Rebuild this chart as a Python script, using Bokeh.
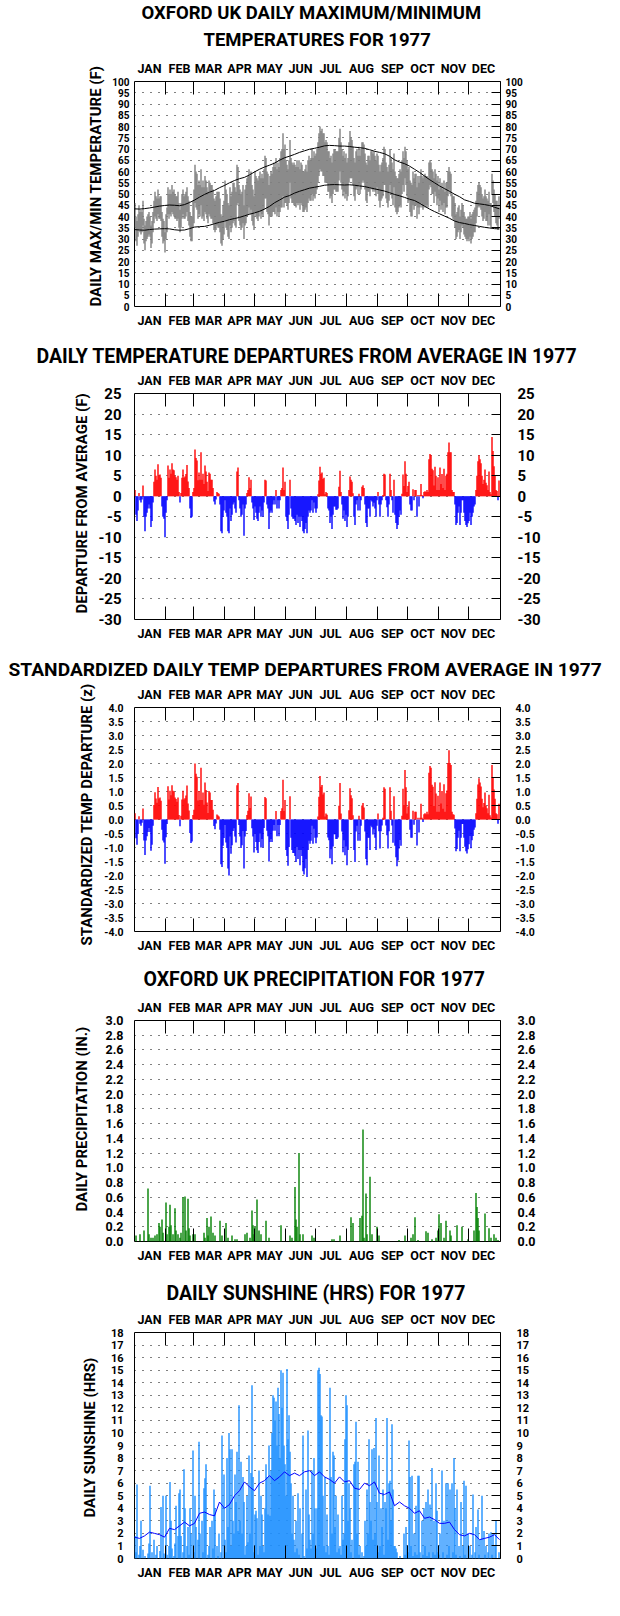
from bokeh.plotting import figure
from bokeh.models import Range1d, FixedTicker, LinearAxis, Title, ColumnDataSource, NumeralTickFormatter
from bokeh.layouts import column
from bokeh.embed import file_html
from bokeh.resources import INLINE

# ---------------- DATA ----------------
month_names = ["JAN", "FEB", "MAR", "APR", "MAY", "JUN", "JUL", "AUG", "SEP", "OCT", "NOV", "DEC"]
month_bounds = [0, 31, 59, 90, 120, 151, 181, 212, 243, 273, 304, 334, 365]
month_mids = [15, 45, 74, 105, 135, 166, 196, 227, 258, 288, 319, 349]

# daily max / min temperature (F)
tmax = [
 46, 40, 38, 41, 45, 42, 43, 42, 47, 39, 36, 38, 40, 41, 42, 40, 36, 38, 42, 47, 51, 49, 48, 52, 48, 49, 49, 42, 39, 38, 33,
 41, 44, 53, 50, 52, 50, 54, 51, 52, 50, 49, 49, 51, 46, 43, 46, 50, 52, 49, 50, 51, 53, 49, 47, 42, 40, 40, 47,
 52, 63, 60, 59, 54, 56, 54, 61, 53, 56, 53, 58, 56, 53, 51, 56, 55, 54, 54, 52, 48, 47, 49, 51, 51, 51, 48, 41, 40, 45, 47,
 56, 52, 50, 46, 45, 53, 49, 51, 55, 55, 53, 51, 63, 62, 54, 52, 50, 51, 54, 45, 52, 54, 57, 58, 61, 58, 60, 54, 52, 49,
 60, 58, 57, 56, 58, 60, 57, 59, 57, 61, 67, 66, 60, 59, 54, 58, 60, 59, 62, 64, 62, 66, 61, 64, 62, 66, 69, 70, 77, 70, 72,
 65, 63, 61, 65, 74, 66, 64, 63, 64, 63, 62, 65, 62, 65, 61, 64, 63, 60, 60, 61, 63, 60, 65, 67, 65, 66, 70, 66, 69, 67,
 68, 70, 73, 77, 80, 78, 79, 77, 77, 73, 74, 73, 69, 69, 66, 67, 64, 68, 70, 70, 69, 69, 69, 75, 79, 73, 70, 67, 69, 66, 68,
 64, 66, 73, 78, 75, 74, 71, 66, 64, 69, 70, 67, 71, 67, 70, 73, 73, 72, 68, 64, 63, 67, 67, 65, 69, 69, 68, 69, 67, 65, 68,
 67, 63, 60, 63, 64, 66, 71, 70, 64, 62, 60, 63, 70, 66, 64, 61, 68, 60, 58, 57, 57, 59, 61, 60, 65, 69, 66, 71, 69, 65,
 61, 62, 56, 55, 54, 60, 57, 59, 59, 53, 58, 55, 58, 61, 58, 57, 58, 59, 58, 58, 57, 64, 65, 64, 61, 60, 57, 61, 59, 56, 58,
 52, 57, 53, 55, 52, 56, 51, 55, 55, 60, 62, 60, 59, 50, 49, 49, 46, 41, 42, 44, 45, 40, 43, 46, 45, 42, 40, 39, 39, 40,
 40, 42, 39, 41, 42, 43, 44, 47, 51, 54, 55, 54, 53, 50, 48, 49, 52, 49, 48, 47, 51, 46, 46, 59, 56, 52, 50, 47, 47, 44, 49,
]
tmin = [
 35, 29, 27, 31, 34, 33, 32, 33, 36, 28, 25, 29, 30, 31, 32, 31, 26, 28, 33, 37, 40, 39, 38, 41, 39, 39, 38, 31, 28, 29, 24,
 30, 33, 41, 39, 41, 40, 42, 41, 40, 39, 39, 38, 39, 35, 33, 35, 39, 41, 39, 39, 40, 42, 38, 36, 31, 29, 29, 35,
 37, 46, 44, 43, 39, 41, 40, 45, 39, 40, 38, 42, 41, 39, 37, 41, 40, 39, 39, 37, 34, 33, 34, 36, 35, 35, 33, 28, 27, 30, 32,
 38, 35, 34, 31, 30, 36, 33, 35, 37, 38, 36, 35, 45, 46, 38, 36, 34, 35, 37, 30, 36, 37, 40, 41, 44, 41, 43, 38, 36, 34,
 42, 40, 39, 38, 40, 42, 39, 41, 40, 43, 48, 48, 42, 41, 36, 40, 40, 40, 42, 42, 41, 44, 40, 42, 40, 42, 44, 44, 49, 44, 46,
 46, 45, 43, 46, 55, 48, 46, 46, 45, 45, 44, 46, 45, 46, 43, 46, 45, 42, 42, 43, 44, 42, 46, 48, 47, 47, 50, 47, 49, 48,
 50, 52, 55, 58, 61, 60, 60, 58, 58, 55, 55, 55, 51, 51, 48, 49, 46, 50, 52, 52, 51, 51, 51, 56, 60, 55, 52, 49, 51, 48, 50,
 47, 49, 55, 57, 57, 57, 54, 49, 47, 52, 53, 50, 54, 50, 52, 55, 56, 55, 52, 47, 46, 51, 51, 49, 53, 52, 51, 52, 51, 49, 53,
 50, 47, 44, 47, 48, 49, 54, 54, 48, 46, 44, 47, 54, 50, 48, 45, 53, 44, 42, 41, 42, 44, 45, 44, 50, 54, 51, 57, 54, 49,
 46, 47, 42, 40, 40, 45, 43, 45, 45, 39, 44, 41, 44, 46, 44, 43, 44, 45, 44, 45, 44, 52, 54, 53, 50, 50, 46, 51, 49, 45, 48,
 42, 47, 43, 45, 42, 46, 41, 44, 44, 49, 52, 50, 49, 40, 39, 38, 35, 30, 31, 33, 34, 30, 33, 36, 35, 32, 31, 30, 29, 30,
 29, 31, 28, 30, 31, 33, 33, 37, 40, 44, 45, 44, 43, 40, 38, 39, 42, 38, 38, 36, 41, 36, 35, 50, 46, 42, 40, 37, 36, 34, 39,
]

# normal max / min, every 5th day
normal_days = list(range(0, 366, 5))
normal_max = [
 43.4, 43.3, 43.5, 43.8, 44.2, 44.6, 44.9, 45.1, 45.0, 44.8, 45.3, 46.2, 47.3, 48.6, 49.8, 50.8, 51.6, 52.8, 53.8, 55.0,
 56.0, 56.8, 57.4, 58.5, 59.8, 61.0, 62.0, 62.8, 63.7, 65.0, 66.1, 66.8, 67.6, 68.5, 69.2, 69.9, 70.3, 70.8, 71.4, 71.6,
 71.5, 71.3, 71.3, 71.1, 70.8, 70.6, 70.3, 69.7, 69.0, 68.5, 67.9, 66.8, 65.2, 64.2, 63.5, 62.4, 61.0, 59.6, 58.0, 56.4,
 55.0, 53.6, 52.4, 51.2, 49.9, 48.8, 47.4, 46.7, 45.9, 45.6, 45.3, 44.9, 44.1, 43.4,
]
normal_min = [
 34.2, 34.0, 33.9, 34.2, 34.4, 34.5, 34.6, 34.5, 34.1, 33.9, 34.0, 34.6, 35.3, 35.5, 35.6, 36.1, 36.8, 37.4, 37.9, 38.6,
 39.1, 39.6, 40.3, 41.0, 41.6, 42.3, 43.3, 44.5, 46.1, 47.3, 48.6, 49.3, 50.4, 51.2, 51.9, 52.6, 53.0, 53.4, 53.9, 54.1,
 54.2, 54.1, 54.0, 54.1, 53.9, 53.6, 53.3, 52.8, 52.3, 51.8, 51.3, 50.6, 49.8, 49.2, 48.5, 47.7, 47.1, 45.9, 44.6, 43.3,
 42.2, 41.2, 40.2, 39.2, 38.0, 37.3, 36.9, 36.4, 36.0, 35.6, 35.2, 34.9, 34.6, 34.5,
]

# daily temperature departure from average (F)
departure = [
 1.5, -4.5, -6, -3.5, 0.8, -1, -1.5, -0.8, 2.6, -5, -8.5, -5, -4, -3, -2, -3, -7.5, -6, -1.5, 3.5, 6.5, 5, 4, 7.8, 5, 5.3, 4.5, -2.5, -5, -5.5, -10,
 -4, -1, 7.5, 4.5, 6.5, 5.5, 8, 6.5, 6.3, 5, 4.6, 4, 5, 1, -1.5, 0.8, 4.5, 6.5, 4.5, 4.8, 5.4, 7.6, 3.6, 2, -3, -5.3, -5, 1,
 2, 11.4, 9.3, 8.7, 3.9, 5.8, 4, 10.7, 4, 5.5, 3, 7.5, 6, 3.5, 1.3, 5.8, 5.5, 4, 4, 2, -1.3, -2, -0.8, 1, 0.8, 0.6, -2, -8.5, -9, -5, -3.5,
 -1, -4, -5, -8.5, -9, -3, -6, -4.5, -2, -1.5, -3, -4, 6, 7, -1, -3, -5, -4.5, -2, -9.6, -3, -2, 0.8, 1.5, 4.6, 2, 4, -1.5, -3, -5.8,
 -2.5, -4, -5.5, -6, -4, -2.5, -5, -3.5, -5, -1.5, 4, 3.8, -2, -3, -8, -4, -3.5, -4, -2, -1, -2, 1.5, -3, -1, -3, -1, 1.5, 2, 7, 1.5, 3.5,
 -5, -6, -8, -4.5, 4, -3, -5, -5.5, -5.5, -6, -7, -4.5, -6.5, -5, -7.5, -5, -6, -8.5, -9, -8, -6.5, -9, -5, -3.5, -4, -3.5, -1, -4, -1.5, -3,
 -4, -3, 0.5, 3.8, 7.2, 5.5, 5.8, 4.2, 4.5, 0.5, 1, 0.8, -3, -3.5, -6.5, -5, -8, -4.5, -2.5, -2.5, -3.3, -3.3, -3, 2.3, 6.2, 1, -2, -5.5, -3.5, -6, -4.5,
 -7.5, -5, 1.5, 4.8, 4, 3.5, 0.7, -5, -7, -2, -1, -3.5, 0.6, -3.5, -1, 2.3, 2.7, 2, -2, -6.5, -7.5, -3, -3, -5, -1, -1.3, -2.5, -1.6, -3, -5, -1,
 1, -2, -5, -2, -1, 0.3, 5.5, 5.3, -1, -2.7, -5, -2, 5.5, 1.5, -1, -4, 4, -4.5, -6.5, -8, -7, -5, -3.5, -4.5, 0.6, 5.3, 2.5, 8.5, 5.5, 1,
 2.5, 3.5, -2, -3.5, -3.5, 1.7, -1, 1.5, 1.5, -5, 0.3, -2.5, 0.3, 3, 0.3, -0.5, 1, 1.2, 1, 1.5, 1, 9, 10.3, 10, 6.7, 6.3, 2.6, 7.2, 5, 1.5, 4.6,
 1.5, 7, 3, 5.4, 2, 6.7, 1.5, 5, 5.5, 10.7, 13.1, 10.7, 10.7, 1.5, 1, 1, -2, -7, -6.5, -4, -2.5, -7, -4, -1, -1, -4, -6, -7, -7.5, -6.6,
 -6, -4, -7, -5, -4, -2.5, -2, 1.5, 5, 8.5, 10, 9, 8, 5, 3, 4, 6.5, 3.3, 2.7, 1.5, 6, 1, 0.5, 14.4, 11, 7.3, 5, 1.5, 1.3, -1, 3.8,
]

# standardized daily departures (z)
z_departure = [
 0.22, -0.67, -0.9, -0.52, 0.12, -0.15, -0.22, -0.12, 0.39, -0.75, -1.27, -0.75, -0.6, -0.45, -0.3, -0.45, -1.12, -0.9, -0.22, 0.52, 0.97, 0.75, 0.6, 1.16, 0.75, 0.79, 0.67, -0.37, -0.75, -0.82, -1.58,
 -0.63, -0.16, 1.19, 0.71, 1.03, 0.87, 1.22, 1.03, 1.0, 0.79, 0.73, 0.63, 0.79, 0.16, -0.24, 0.13, 0.71, 1.03, 0.71, 0.76, 0.86, 1.21, 0.57, 0.32, -0.48, -0.84, -0.79, 0.16,
 0.35, 2.0, 1.63, 1.53, 0.68, 1.02, 0.7, 1.85, 0.7, 0.96, 0.53, 1.32, 1.05, 0.61, 0.23, 1.02, 0.96, 0.7, 0.7, 0.35, -0.23, -0.35, -0.14, 0.18, 0.14, 0.11, -0.37, -1.6, -1.7, -0.94, -0.66,
 -0.2, -0.82, -1.02, -1.75, -2.0, -0.61, -1.22, -0.92, -0.41, -0.31, -0.61, -0.82, 1.22, 1.3, -0.2, -0.61, -1.02, -0.92, -0.41, -1.75, -0.61, -0.41, 0.16, 0.31, 0.94, 0.41, 0.82, -0.31, -0.61, -1.18,
 -0.5, -0.8, -1.1, -1.2, -0.8, -0.5, -1.0, -0.7, -1.0, -0.3, 0.8, 0.76, -0.4, -0.6, -1.5, -0.8, -0.7, -0.8, -0.4, -0.2, -0.4, 0.3, -0.6, -0.2, -0.6, -0.2, 0.3, 0.4, 1.42, 0.3, 0.7,
 -1.09, -1.3, -1.65, -0.98, 0.83, -0.65, -1.09, -1.2, -1.2, -1.3, -1.52, -0.98, -1.41, -1.09, -1.63, -1.09, -1.3, -1.85, -1.96, -1.74, -1.41, -2.05, -1.09, -0.76, -0.87, -0.76, -0.22, -0.87, -0.33, -0.65,
 -0.85, -0.64, 0.11, 0.81, 1.55, 1.17, 1.23, 0.89, 0.96, 0.11, 0.21, 0.17, -0.64, -0.74, -1.38, -1.06, -1.6, -0.96, -0.53, -0.53, -0.7, -0.7, -0.64, 0.49, 1.3, 0.21, -0.43, -1.17, -0.74, -1.28, -0.96,
 -1.63, -1.09, 0.33, 1.12, 0.87, 0.76, 0.15, -1.09, -1.52, -0.43, -0.22, -0.76, 0.13, -0.76, -0.22, 0.5, 0.59, 0.43, -0.43, -1.41, -1.63, -0.65, -0.65, -1.09, -0.22, -0.28, -0.54, -0.35, -0.65, -1.09, -0.22,
 0.21, -0.42, -1.04, -0.42, -0.21, 0.06, 1.15, 1.1, -0.21, -0.56, -1.04, -0.42, 1.15, 0.31, -0.21, -0.83, 0.83, -0.94, -1.35, -1.67, -1.46, -1.04, -0.73, -0.94, 0.13, 1.1, 0.52, 1.77, 1.15, 0.21,
 0.46, 0.65, -0.37, -0.65, -0.65, 0.31, -0.19, 0.28, 0.28, -0.93, 0.06, -0.46, 0.06, 0.56, 0.06, -0.09, 0.19, 0.22, 0.19, 0.28, 0.19, 1.67, 1.91, 1.85, 1.24, 1.17, 0.48, 1.33, 0.93, 0.28, 0.85,
 0.28, 1.32, 0.57, 1.02, 0.38, 1.26, 0.28, 0.94, 1.04, 2.02, 2.47, 2.02, 1.95, 0.28, 0.19, 0.17, -0.32, -1.13, -1.05, -0.65, -0.4, -1.13, -0.65, -0.16, -0.16, -0.65, -0.97, -1.13, -1.21, -1.06,
 -0.88, -0.59, -1.03, -0.74, -0.59, -0.37, -0.29, 0.22, 0.74, 1.25, 1.47, 1.32, 1.18, 0.74, 0.44, 0.59, 0.96, 0.49, 0.4, 0.22, 0.88, 0.15, 0.07, 1.95, 1.5, 1.07, 0.74, 0.22, 0.19, -0.15, 0.56,
]

# daily precipitation (in.), days with rain
precip_days = [1, 5, 9, 13, 14, 16, 18, 20, 22, 24, 25, 27, 28, 31, 32, 34, 35, 36, 38, 40, 41, 43, 45, 46, 48, 50, 51, 53, 54, 55, 58, 60,
               69, 70, 72, 73, 74, 76, 78, 80, 85, 87, 91, 93, 97, 100, 102, 110, 112, 115, 117, 118, 119, 120, 122, 124, 126, 131, 134, 146,
               155, 157, 160, 161, 162, 164, 165, 168, 177, 179, 197, 199, 205, 216, 218, 225, 227, 228, 229, 231, 232, 235, 237, 242, 244,
               264, 270, 276, 278, 280, 283, 291, 293, 297, 301, 303, 304, 306, 309, 311, 315, 316, 322, 327, 333, 339, 341, 342, 343, 344,
               350, 354, 356, 359, 361, 363]
precip_in = [0.08, 0.1, 0.15, 0.72, 0.1, 0.05, 0.05, 0.08, 0.1, 0.25, 0.2, 0.3, 0.12, 0.53, 0.1, 0.2, 0.5, 0.22, 0.1, 0.45, 0.15, 0.1, 0.05, 0.12, 0.6, 0.61, 0.15, 0.58, 0.18, 0.08, 0.1, 0.1,
             0.12, 0.05, 0.32, 0.08, 0.2, 0.34, 0.12, 0.08, 0.28, 0.08, 0.25, 0.05, 0.08, 0.03, 0.03, 0.1, 0.12, 0.05, 0.42, 0.22, 0.1, 0.2, 0.57, 0.15, 0.1, 0.28, 0.05, 0.22,
             0.08, 0.05, 0.74, 0.3, 0.2, 1.2, 0.1, 0.1, 0.08, 0.05, 0.03, 0.03, 0.08, 0.33, 0.25, 0.32, 0.35, 1.52, 0.05, 0.65, 0.1, 0.88, 0.1, 0.2, 0.08,
             0.02, 0.08, 0.05, 0.1, 0.33, 0.02, 0.14, 0.12, 0.03, 0.05, 0.15, 0.37, 0.25, 0.05, 0.28, 0.15, 0.08, 0.22, 0.2, 0.03, 0.15, 0.66, 0.47, 0.32, 0.15,
             0.38, 0.18, 0.05, 0.1, 0.05, 0.02]

# daily sunshine (hrs)
sunshine = [
 1.8, 0.5, 5.9, 0, 0.3, 1.0, 3.0, 0, 0.7, 0, 0.2, 0, 0, 0.4, 1.2, 5.8, 0, 0.5, 0, 1.5, 0, 0.3, 1.0, 0, 0, 0.6, 4.1, 0, 5.0, 0.4, 0,
 5.0, 0.3, 0, 1.0, 6.1, 3.0, 0.8, 0, 0.2, 1.2, 4.2, 0, 1.8, 5.2, 5.5, 1.8, 0, 0.5, 7.1, 4.0, 0, 1.0, 2.5, 0.3, 4.0, 2.0, 0, 8.6,
 0.5, 5.0, 2.5, 0, 1.5, 9.3, 2.0, 0, 3.0, 0.5, 5.6, 6.4, 7.5, 0, 0.3, 1.0, 2.5, 0, 3.0, 0.8, 5.5, 4.0, 0, 1.0, 0.2, 2.0, 0, 0.5, 9.8, 0, 6.7,
 1.5, 0.5, 8.0, 2.5, 10.0, 8.7, 1.0, 8.7, 3.0, 2.0, 6.7, 4.5, 8.5, 2.2, 12.2, 3.0, 7.7, 2.0, 6.5, 4.5, 0.3, 1.0, 5.0, 1.3, 8.2, 2.0, 6.8, 13.8, 6.5, 0.5,
 3.5, 3.8, 3.2, 0.3, 7.0, 1.0, 5.0, 3.5, 1.0, 0.5, 4.0, 7.5, 6.5, 3.5, 9.0, 3.4, 7.0, 10.0, 13.0, 12.8, 11.0, 12.5, 9.0, 13.6, 11.5, 8.0, 15.0, 12.0, 14.8, 9.0, 7.5,
 5.0, 15.1, 9.5, 11.4, 8.5, 6.0, 2.0, 5.0, 1.5, 0.5, 3.0, 0.8, 5.2, 0.3, 4.0, 0, 2.0, 9.8, 0.2, 0, 5.5, 0.8, 10.2, 3.5, 1.5, 0.8, 7.0, 2.0, 8.0, 4.0,
 0.8, 4.0, 15.0, 15.2, 14.7, 11.4, 11.3, 5.0, 1.0, 6.5, 0.5, 3.5, 1.0, 0.3, 13.6, 6.5, 2.0, 8.5, 8.2, 2.5, 5.0, 0.5, 3.5, 0.8, 1.0, 0.3, 5.0, 1.5, 2.0, 9.5, 13.0,
 12.2, 3.0, 6.0, 4.0, 0.5, 1.5, 0, 7.5, 7.7, 10.9, 2.0, 7.7, 0.3, 1.0, 0, 0.5, 0, 0.2, 3.0, 1.0, 5.5, 2.0, 9.5, 4.5, 3.0, 8.7, 1.5, 8.8, 2.0, 11.2, 4.5,
 0.5, 8.2, 1.0, 4.0, 2.5, 5.5, 0.3, 4.5, 4.0, 11.2, 1.5, 6.0, 6.2, 3.0, 10.7, 5.5, 1.0, 1.0, 0.8, 0.5, 0, 0, 0.2, 0, 0, 0, 2.0, 0.3, 2.5, 1.0,
 0.5, 9.4, 6.5, 1.0, 6.6, 0.2, 2.0, 0.5, 4.2, 0.3, 6.6, 6.6, 0.5, 0, 3.0, 0.3, 4.0, 1.0, 4.5, 0.2, 5.5, 0.5, 4.3, 0, 7.2, 0.5, 3.0, 0.3, 6.0, 3.8, 0.5,
 0.3, 2.0, 0, 7.0, 0.5, 3.0, 0, 6.0, 0.3, 6.0, 1.0, 5.5, 0, 6.0, 0.5, 8.0, 4.0, 0.3, 5.5, 0, 1.0, 0.2, 4.5, 0, 1.0, 6.2, 0.3, 5.8, 0, 2.0,
 0, 1.0, 0, 0.3, 5.1, 0, 0.5, 2.5, 0, 3.9, 0.3, 1.5, 0, 5.0, 0, 2.2, 0.3, 1.0, 0, 0.5, 2.0, 0, 2.1, 0.3, 2.0, 0, 1.0, 3.0, 0, 0, 0.5,
]
# average daily sunshine (hrs), every 5th day
sun_avg_days = list(range(0, 366, 5))
sun_avg = [
 1.7, 1.6, 1.8, 2.1, 2.0, 1.9, 1.7, 2.4, 2.3, 2.6, 2.9, 2.6, 2.8, 3.6, 3.7, 3.5, 3.4, 4.5, 4.0, 4.3,
 5.0, 5.4, 6.1, 5.7, 5.4, 6.0, 6.2, 6.6, 6.2, 6.5, 6.9, 6.6, 6.8, 6.6, 6.9, 7.0, 6.6, 6.9, 6.5, 6.3,
 6.0, 6.5, 6.1, 6.2, 5.6, 5.5, 6.0, 5.8, 6.1, 5.2, 5.1, 5.3, 4.2, 4.5, 4.2, 4.0, 3.6, 3.8, 3.2, 3.3,
 3.1, 2.8, 2.8, 2.9, 2.3, 1.9, 1.8, 2.0, 1.9, 1.5, 1.6, 1.7, 1.9, 1.5,
]

# ---------------- LAYOUT ----------------
FONT = "Roboto"
PAGE_W = 620
FRAME_L = 134      # page x of frame left
FRAME_W = 366
XMAX = 366
BAR_W = 1.4


def make_panel(fig_top, height, ft, fb, y0, y1, yticks, fmt, tick_fs, std_l, std_r,
               ylabel, ylabel_std, ylabel_bottom, titles):
    p = figure(width=PAGE_W, height=height, x_range=Range1d(0, XMAX), y_range=Range1d(y0, y1),
               output_backend="svg", toolbar_location=None,
               x_axis_location=None, y_axis_location=None,
               min_border_left=FRAME_L, min_border_right=PAGE_W - FRAME_L - FRAME_W,
               min_border_top=ft - fig_top, min_border_bottom=fig_top + height - fb)
    p.title.visible = False
    p.outline_line_color = "black"
    p.outline_line_width = 1
    p.outline_line_alpha = 1.0
    p.background_fill_color = "white"
    p.border_fill_color = "white"
    p.xgrid.visible = False
    p.ygrid.ticker = FixedTicker(ticks=yticks[1:-1])
    p.ygrid.grid_line_color = "black"
    p.ygrid.grid_line_dash = "1 7"
    p.ygrid.grid_line_width = 1
    for loc in ("above", "below"):
        ax = LinearAxis(ticker=FixedTicker(ticks=month_mids, minor_ticks=month_bounds[1:-1]),
                        major_label_overrides={m: n for m, n in zip(month_mids, month_names)},
                        major_tick_in=0, major_tick_out=0, minor_tick_in=13, minor_tick_out=0,
                        minor_tick_line_color="black", axis_line_color=None,
                        major_label_standoff=6,
                        major_label_text_font=FONT, major_label_text_font_style="bold",
                        major_label_text_font_size="12.5px", major_label_text_color="black")
        p.add_layout(ax, loc)
    for loc, st in (("left", std_l), ("right", std_r)):
        ax = LinearAxis(ticker=FixedTicker(ticks=yticks), formatter=NumeralTickFormatter(format=fmt),
                        major_tick_in=9 if loc == "right" else 0, major_tick_out=0,
                        major_tick_line_color="black",
                        minor_tick_in=0, minor_tick_out=0, axis_line_color=None,
                        major_label_standoff=st,
                        major_label_text_font=FONT, major_label_text_font_style="bold",
                        major_label_text_font_size=tick_fs, major_label_text_color="black")
        p.add_layout(ax, loc)
    # vertical axis title, its lower end placed relative to the frame bottom
    p.add_layout(Title(text=ylabel, align="left", offset=fb - ylabel_bottom, standoff=ylabel_std,
                       text_font=FONT, text_font_style="bold", text_font_size="15px",
                       text_color="black"), "left")
    # titles: innermost first; left edge given in page px
    for text, size, left_px, std in titles:
        p.add_layout(Title(text=text, align="left", offset=left_px - FRAME_L, standoff=std,
                           text_font=FONT, text_font_style="bold", text_font_size=f"{size}px",
                           text_color="black"), "above")
    return p


def daily_x(values):
    return [i + 0.5 for i in range(len(values))]


# ---- Panel 1: max/min temperatures
p1 = make_panel(0, 335, 81, 306, 0, 100, list(range(0, 101, 5)), "0", "10px", 5, 5,
                "DAILY MAX/MIN TEMPERATURE (F)", 10, 306,
                [("TEMPERATURES FOR 1977", 18.5, 203, 14), ("OXFORD UK DAILY MAXIMUM/MINIMUM", 18.5, 141, -9)])
n = min(len(tmax), len(tmin))
p1.vbar(x=daily_x(tmax[:n]), width=BAR_W, bottom=tmin[:n], top=tmax[:n], fill_color="#808080", line_color=None)
p1.line(normal_days[:len(normal_max)], normal_max, line_color="black", line_width=1)
p1.line(normal_days[:len(normal_min)], normal_min, line_color="black", line_width=1)

# ---- Panel 2: departures
p2 = make_panel(335, 310, 393, 619, -30, 25, list(range(-30, 26, 5)), "0", "15px", 13, 17,
                "DEPARTURE FROM AVERAGE (F)", 9, 613,
                [("DAILY TEMPERATURE DEPARTURES FROM AVERAGE IN 1977", 19.5, 36, 3)])
src2 = ColumnDataSource(dict(x=daily_x(departure), top=departure,
                             color=["#FF0000" if v >= 0 else "#0000FF" for v in departure]))
p2.vbar(x="x", width=BAR_W, bottom=0, top="top", fill_color="color", line_color=None, source=src2)

# ---- Panel 3: standardized departures
p3 = make_panel(645, 310, 707, 932, -4, 4, [round(-4 + 0.5 * k, 1) for k in range(17)], "0.0", "10.5px", 11, 15,
                "STANDARDIZED TEMP DEPARTURE (z)", 12, 946,
                [("STANDARDIZED DAILY TEMP DEPARTURES FROM AVERAGE IN 1977", 19.2, 8, 5)])
src3 = ColumnDataSource(dict(x=daily_x(z_departure), top=z_departure,
                             color=["#FF0000" if v >= 0 else "#0000FF" for v in z_departure]))
p3.vbar(x="x", width=BAR_W, bottom=0, top="top", fill_color="color", line_color=None, source=src3)

# ---- Panel 4: precipitation
p4 = make_panel(955, 310, 1020, 1245, 0, 3, [round(0.2 * k, 1) for k in range(16)], "0.0", "12.5px", 11, 17,
                "DAILY PRECIPITATION (IN.)", 24, 1215,
                [("OXFORD UK PRECIPITATION FOR 1977", 19.5, 143, 11)])
m = min(len(precip_days), len(precip_in))
p4.vbar(x=[d + 0.5 for d in precip_days[:m]], width=BAR_W, bottom=0, top=precip_in[:m], fill_color="#008000", line_color=None)

# ---- Panel 5: sunshine
p5 = make_panel(1265, 351, 1332, 1558, 0, 18, list(range(0, 19)), "0", "11px", 11, 16,
                "DAILY SUNSHINE (HRS)", 17, 1517,
                [("DAILY SUNSHINE (HRS) FOR 1977", 19.5, 166, 8)])
p5.vbar(x=daily_x(sunshine), width=BAR_W, bottom=0, top=sunshine, fill_color="#1E90FF", line_color=None)
k = min(len(sun_avg_days), len(sun_avg))
p5.line(sun_avg_days[:k], sun_avg[:k], line_color="#0000FF", line_width=1)

layout = column(p1, p2, p3, p4, p5, spacing=0)
open("out.html", "w").write(file_html(layout, INLINE))
